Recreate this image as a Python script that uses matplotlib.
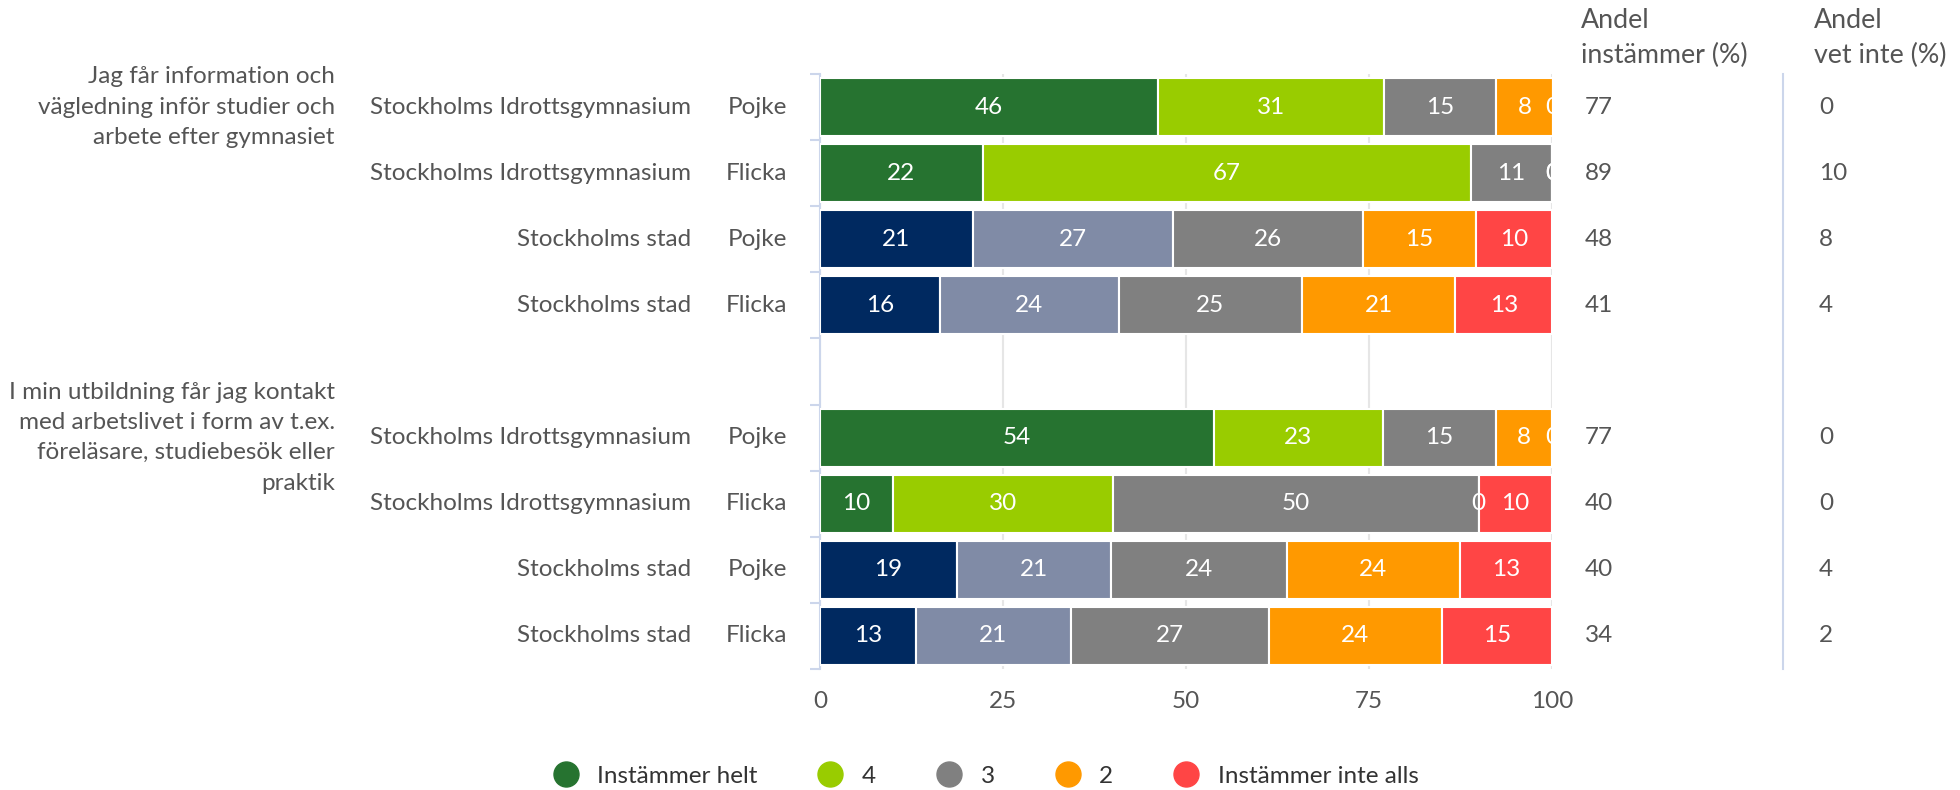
import matplotlib
matplotlib.use("Agg")
import matplotlib.pyplot as plt
from matplotlib.lines import Line2D
import numpy as np

plt.rcParams['font.family'] = ['Lato', 'DejaVu Sans']

# data
questions = ["Jag får information och\nvägledning inför studier och\narbete efter gymnasiet",
             "I min utbildning får jag kontakt\nmed arbetslivet i form av t.ex.\nföreläsare, studiebesök eller\npraktik"]
schools = ["Stockholms Idrottsgymnasium", "Stockholms Idrottsgymnasium",
           "Stockholms stad", "Stockholms stad"]
genders = ["Pojke", "Flicka", "Pojke", "Flicka"]
legend_labels = ["Instämmer helt", "4", "3", "2", "Instämmer inte alls"]

q1_values = [[46.2, 30.8, 15.4, 7.7, 0.0],
             [22.2, 66.7, 11.1, 0.0, 0.0],
             [20.9, 27.3, 26.0, 15.4, 10.4],
             [16.4, 24.4, 25.0, 21.0, 13.2]]
q2_values = [[53.8, 23.1, 15.4, 7.7, 0.0],
             [10.0, 30.0, 50.0, 0.0, 10.0],
             [18.7, 21.1, 24.0, 23.6, 12.6],
             [13.1, 21.2, 27.0, 23.7, 15.0]]
q1_agree = [77, 89, 48, 41]
q2_agree = [77, 40, 40, 34]
q1_dontknow = [0, 10, 8, 4]
q2_dontknow = [0, 0, 4, 2]

# colours
school_cols = ["#267330", "#99cc00", "#808080", "#ff9900", "#ff4545"]
city_cols = ["#002960", "#808ba6", "#808080", "#ff9900", "#ff4545"]
txt = "#555555"
axcol = "#ccd6eb"
FS = 17.5

fig = plt.figure(figsize=(19.6, 7.9), dpi=100)
W, H = 1960, 790
ax = fig.add_axes([820/W, 1-669/H, 732/W, (669-74)/H])

rows = q1_values + [None] + q2_values
agree = q1_agree + [None] + q2_agree
dontknow = q1_dontknow + [None] + q2_dontknow
school_lab = schools + [""] + schools
gender_lab = genders + [""] + genders

for i, vals in enumerate(rows):
    if vals is None:
        continue
    cols = school_cols if "Idrott" in school_lab[i] else city_cols
    lefts = np.concatenate([[0], np.cumsum(vals)[:-1]])
    ax.barh(i, vals, left=lefts, height=0.88, color=cols,
            edgecolor="white", linewidth=1.5, zorder=3)
    for l, v in zip(lefts, vals):
        ax.text(l + v/2, i, f"{round(v):d}", ha="center", va="center",
                color="white", fontsize=FS, zorder=4, clip_on=True)
    # category labels
    ax.text(-0.045, i, gender_lab[i], transform=ax.get_yaxis_transform(),
            ha="right", va="center", color=txt, fontsize=FS)
    ax.text(-0.176, i, school_lab[i], transform=ax.get_yaxis_transform(),
            ha="right", va="center", color=txt, fontsize=FS)
    # right columns
    ax.text(1.045, i, str(agree[i]), transform=ax.get_yaxis_transform(),
            ha="left", va="center", color=txt, fontsize=FS)
    ax.text(1.365, i, str(dontknow[i]), transform=ax.get_yaxis_transform(),
            ha="left", va="center", color=txt, fontsize=FS)

# question labels, centred on first row of each group
for q, yq in zip(questions, [0, 5]):
    ax.text(-0.663, yq, q, transform=ax.get_yaxis_transform(), ha="right",
            va="center", multialignment="right", color=txt, fontsize=FS,
            linespacing=1.55)

ax.set_xlim(0, 100)
ax.set_ylim(8.5, -0.5)
ax.set_xticks([0, 25, 50, 75, 100])
ax.grid(axis="x", color="#e6e6e6", linewidth=1.5, zorder=0)
ax.set_yticks(np.arange(-0.5, 9, 1))
ax.set_yticklabels([])
ax.tick_params(axis="y", length=7, width=1.5, color=axcol)
ax.tick_params(axis="x", length=0, pad=16, labelsize=FS, labelcolor=txt)
for s in ["top", "right", "bottom"]:
    ax.spines[s].set_visible(False)
ax.spines["left"].set_color(axcol)
ax.spines["left"].set_linewidth(1.5)

# separator line between the two right columns
ax.plot([1.316, 1.316], [0, 1], transform=ax.transAxes, color=axcol,
        linewidth=1.5, clip_on=False)

# headers
for x, lines in [(1581, ["Andel", "instämmer (%)"]), (1814, ["Andel", "vet inte (%)"])]:
    for k, line in enumerate(lines):
        fig.text(x/W, 1-(21+34*k)/H, line, ha="left", va="center",
                 color=txt, fontsize=FS*1.1)

handles = [Line2D([], [], marker="o", linestyle="", markersize=18,
                  markerfacecolor=c, markeredgecolor=c) for c in school_cols]
fig.legend(handles, legend_labels, loc="center", bbox_to_anchor=(0.5, 1-776/H),
           ncol=5, frameon=False, fontsize=FS, handletextpad=0.3,
           columnspacing=2.0, labelcolor="#333333")

fig.savefig("out.png", dpi=100)
